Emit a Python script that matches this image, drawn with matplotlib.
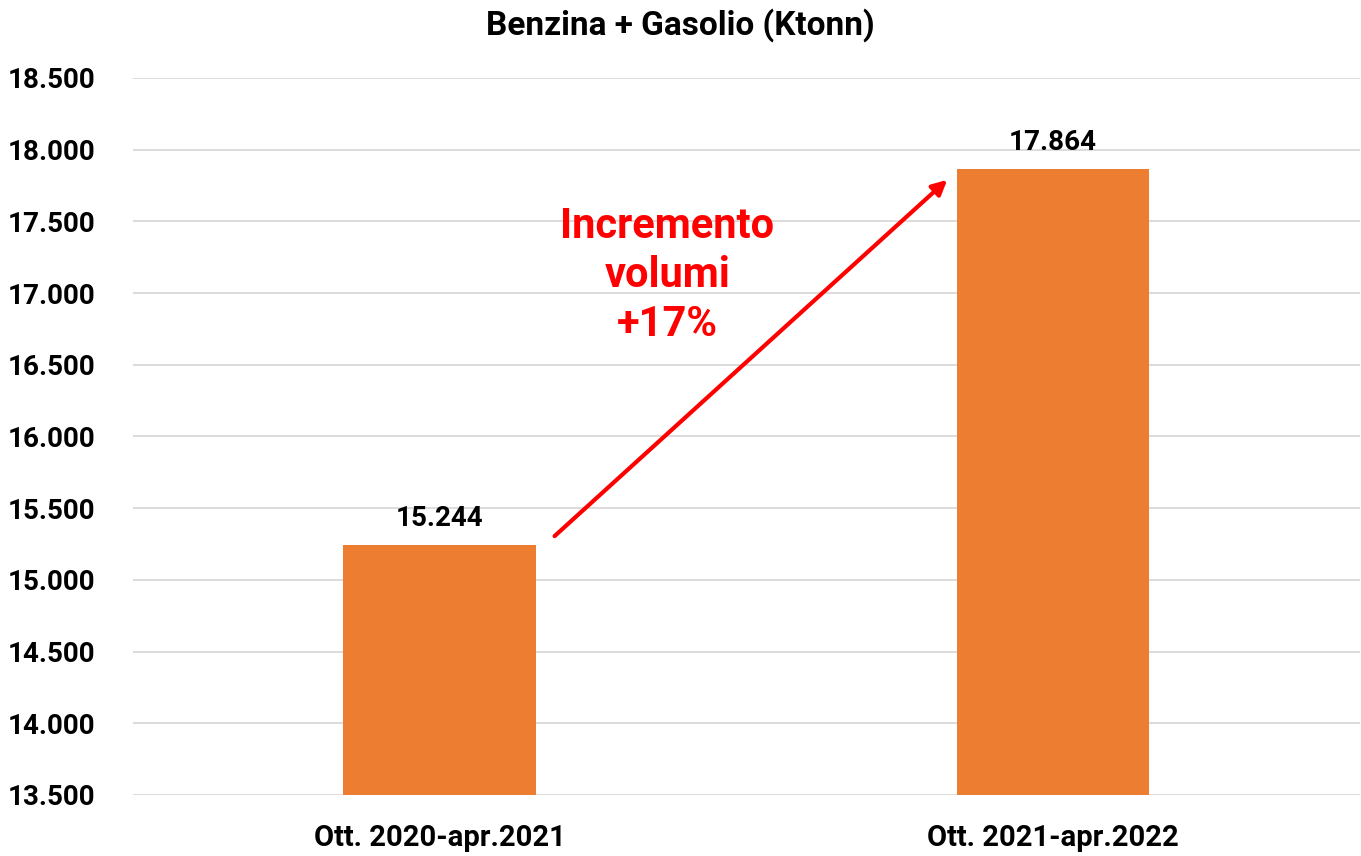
import matplotlib.pyplot as plt
from matplotlib.ticker import FuncFormatter

plt.rcParams['font.family'] = ['Roboto', 'DejaVu Sans']

# dati
categorie = ["Ott. 2020-apr.2021", "Ott. 2021-apr.2022"]
volumi = [15244, 17864]
titolo = "Benzina + Gasolio (Ktonn)"

fig = plt.figure(figsize=(13.61, 8.56), dpi=100)
ax = fig.add_axes([0.0977, 0.0713, 0.9013, 0.8376])

x = range(len(categorie))
bars = ax.bar(x, volumi, width=0.314, color="#ED7D31", zorder=3)

ax.set_xlim(-0.5, 1.5)
ax.set_ylim(13500, 18500)
ax.set_yticks(range(13500, 18501, 500))
ax.yaxis.set_major_formatter(FuncFormatter(lambda v, p: f"{int(v):,}".replace(",", ".")))
ax.grid(axis="y", color="#d9d9d9", linewidth=1.3, zorder=0)

ax.set_xticks(list(x))
ax.set_xticklabels(categorie, fontsize=21, fontweight="bold")
for lab in ax.get_yticklabels():
    lab.set_fontsize(20)
    lab.set_fontweight("bold")
    lab.set_horizontalalignment("left")
ax.tick_params(axis="x", length=0, pad=21)
ax.tick_params(axis="y", length=0, pad=90)

for s in ax.spines.values():
    s.set_visible(False)

# etichette valori
for xi, v in zip(x, volumi):
    ax.text(xi, v + 90, f"{v:,}".replace(",", "."), ha="center", va="bottom",
            fontsize=20, fontweight="bold")

# freccia e testo
ax.annotate("", xy=(0.831, 17803), xytext=(0.184, 15292),
            arrowprops=dict(arrowstyle="-|>", color="red", lw=3, mutation_scale=22))
ax.text(0.371, 17126, "Incremento\nvolumi\n+17%", ha="center", va="center",
        color="red", fontsize=30, fontweight="bold", linespacing=1.25)

fig.suptitle(titolo, x=0.5, y=0.99, fontsize=24, fontweight="bold")

fig.savefig("out.png", dpi=100)
